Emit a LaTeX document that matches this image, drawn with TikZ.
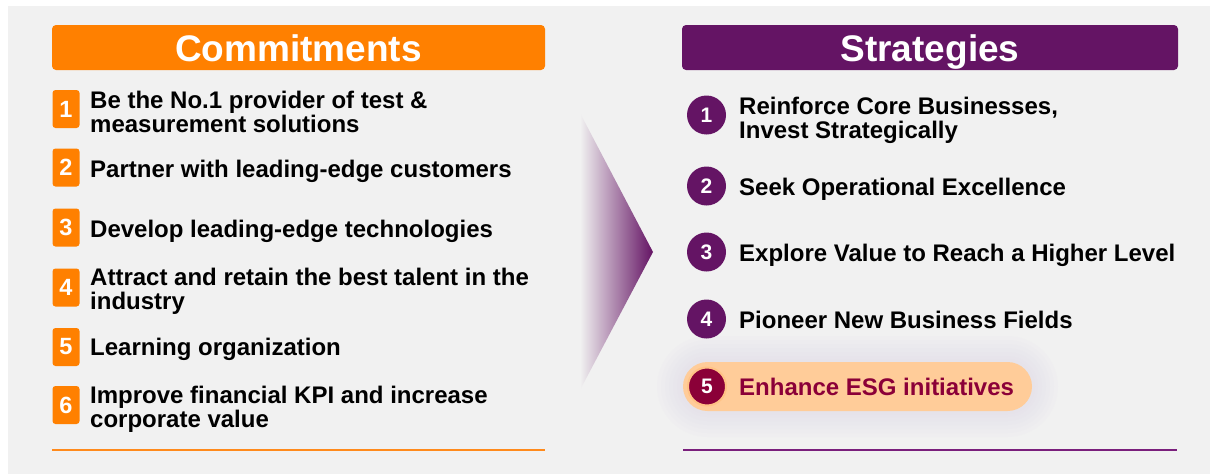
\documentclass[tikz,border=0pt]{standalone}
\usepackage{fontspec}
\setmainfont{Liberation Sans}
\definecolor{bggray}{HTML}{F1F1F1}
\definecolor{corange}{HTML}{FF8000}
\definecolor{cpurple}{HTML}{641464}
\definecolor{cpeach}{HTML}{FFCC99}
\definecolor{cring}{HTML}{FFC285}
\definecolor{cmaroon}{HTML}{8B0038}
\definecolor{cglow}{HTML}{DEDAEA}
\definecolor{oline}{HTML}{FF8A1C}
\definecolor{pline}{HTML}{7A1F7C}
\begin{document}
\begin{tikzpicture}[x=1pt,y=-1pt,
  hdr/.style={rounded corners=4pt, minimum width=493pt, minimum height=45pt, inner sep=0pt,
    text=white, font=\fontsize{37}{37}\selectfont\bfseries, text height=27pt, text depth=0pt},
  sq/.style={fill=corange, rounded corners=3pt, minimum width=27pt, minimum height=38pt,
    inner sep=0pt, text=white, font=\fontsize{23.5}{23.5}\selectfont\bfseries},
  circ/.style={circle, fill=cpurple, minimum size=39pt, inner sep=0pt, text=white,
    font=\fontsize{21}{21}\selectfont\bfseries},
  item/.style={anchor=base west, inner sep=0pt, align=left,
    font=\fontsize{24}{24}\selectfont\bfseries},
]
\useasboundingbox (0,0) rectangle (1210,474);
\fill[white] (0,0) rectangle (1210,474);
\fill[bggray] (8,6) rectangle (1210,474);

% headers
\node[hdr, fill=corange] (chead) at (298.5,47.5) {Commitments};
\node[hdr, fill=cpurple, minimum width=496pt] (shead) at (930,47.5) {Strategies};

% arrow
\shade[left color=bggray, right color=cpurple] (580,113) -- (653,252) -- (580,390) -- cycle;

% commitments
\node[sq] (c1) at (66,109) {1};
\node[sq] (c2) at (66,167.5) {2};
\node[sq] (c3) at (66,227.5) {3};
\node[sq] (c4) at (66,287.5) {4};
\node[sq] (c5) at (66,347) {5};
\node[sq] (c6) at (66,405) {6};
\node[item] (ct1) at (90,132) {Be the No.1 provider of test \&\\measurement solutions};
\node[item] (ct2) at (90,177) {Partner with leading-edge customers};
\node[item] (ct3) at (90,237) {Develop leading-edge technologies};
\node[item] (ct4) at (90,309) {Attract and retain the best talent in the\\industry};
\node[item] (ct5) at (90,355) {Learning organization};
\node[item] (ct6) at (90,427) {Improve financial KPI and increase\\corporate value};

% highlight glow
\foreach \g in {26,22,18,14,10,6,3}{
  \fill[cglow, opacity=0.09, rounded corners=24.5pt+\g pt]
    (683-\g,362-\g) rectangle (1032+\g,411+\g);
}
\node[fill=cpeach, rounded corners=24.5pt, minimum width=349pt, minimum height=49pt, inner sep=0pt] (pill) at (857.5,386.5) {};

% strategies
\node[circ] (s1) at (706.5,115) {1};
\node[circ] (s2) at (706.5,186) {2};
\node[circ] (s3) at (706.5,252) {3};
\node[circ] (s4) at (706.5,319) {4};
\node[circ, fill=cmaroon, draw=cring, line width=2pt, minimum size=38pt] (s5) at (707,386.5) {5};
\node[item] (st1) at (739,138) {Reinforce Core Businesses,\\Invest Strategically};
\node[item] (st2) at (739,195) {Seek Operational Excellence};
\node[item] (st3) at (739,261) {Explore Value to Reach a Higher Level};
\node[item] (st4) at (739,328) {Pioneer New Business Fields};
\node[item, text=cmaroon] (st5) at (739,395) {Enhance ESG initiatives};

% bottom rules
\coordinate (ol) at (52,450); \coordinate (or) at (545,450);
\coordinate (pl) at (683,450); \coordinate (pr) at (1177,450);
\draw[oline, line width=1.5pt] (ol) -- (or);
\draw[pline, line width=1.5pt] (pl) -- (pr);
\end{tikzpicture}
\end{document}
